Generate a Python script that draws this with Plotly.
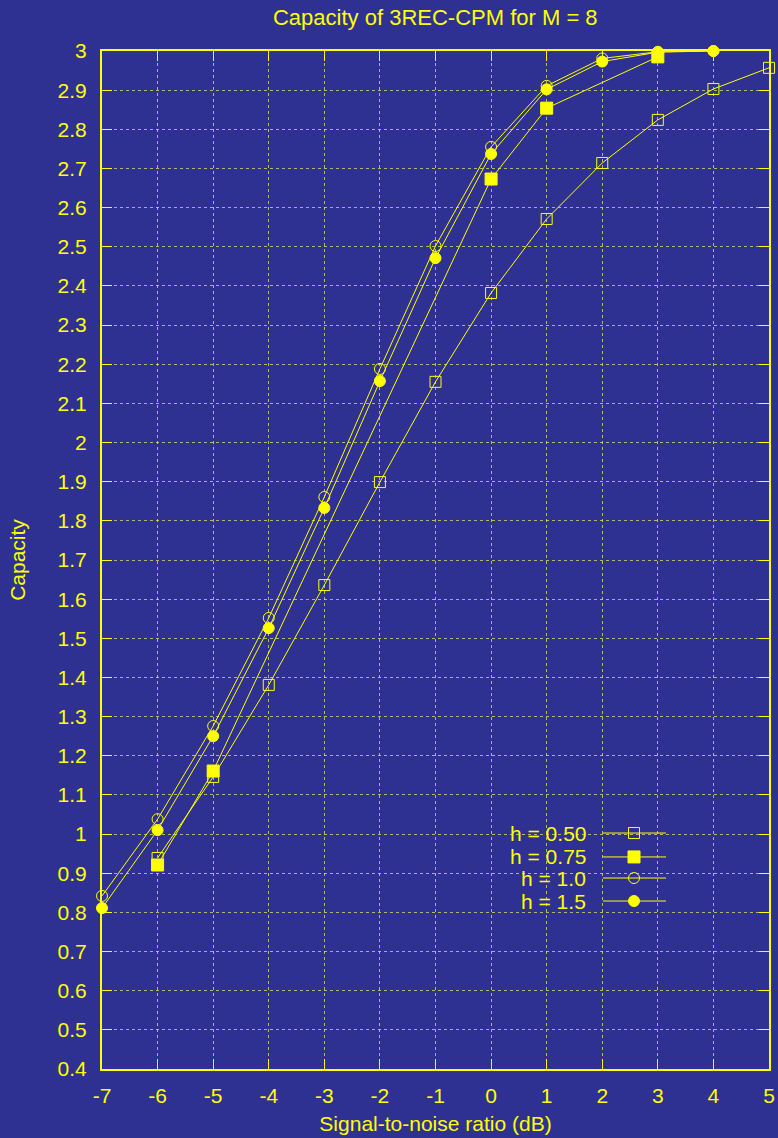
import plotly.graph_objects as go

snr_050 = [-6, -5, -4, -3, -2, -1, 0, 1, 2, 3, 4, 5]
cap_050 = [0.939, 1.146, 1.381, 1.636, 1.899, 2.155, 2.382, 2.571, 2.714, 2.824, 2.903, 2.957]

snr_075 = [-6, -5, 0, 1, 3]
cap_075 = [0.921, 1.161, 2.673, 2.854, 2.985]

snr_100 = [-7, -6, -5, -4, -3, -2, -1, 0, 1, 2, 3, 4]
cap_100 = [0.842, 1.038, 1.276, 1.552, 1.861, 2.188, 2.502, 2.755, 2.911, 2.981, 2.998, 3.0]

snr_150 = [-7, -6, -5, -4, -3, -2, -1, 0, 1, 2, 3, 4]
cap_150 = [0.811, 1.010, 1.250, 1.526, 1.833, 2.157, 2.471, 2.737, 2.902, 2.973, 2.997, 3.0]

labels = ["h = 0.50", "h = 0.75", "h = 1.0", "h = 1.5"]
x_ticks = list(range(-7, 6))
y_ticks = [round(0.4 + 0.1 * i, 1) for i in range(27)]

BG = "#2e3192"
YEL = "#ffff00"
FONT = "Liberation Sans, Arial, sans-serif"
FS = 21

series = [
    (snr_050, cap_050, "square-open", 11),
    (snr_075, cap_075, "square", 12),
    (snr_100, cap_100, "circle-open", 11),
    (snr_150, cap_150, "circle", 11),
]

fig = go.Figure()
for (xs, ys, sym, sz), name in zip(series, labels):
    fig.add_trace(go.Scatter(
        x=xs, y=ys, mode="lines+markers", name=name, showlegend=False,
        line=dict(color=YEL, width=1),
        marker=dict(symbol=sym, size=sz, color=YEL, line=dict(color=YEL, width=1)),
        cliponaxis=False,
    ))

# manual legend (gnuplot style: text right-aligned, sample to the right)
leg_rows = [0.2318, 0.2083, 0.1876, 0.1650]
lx0, lxm, lx1, ltext = 0.7511, 0.7976, 0.8456, 0.7286
for (xs, ys, sym, sz), name, ry in zip(series, labels, leg_rows):
    fig.add_trace(go.Scatter(
        x=[lx0, lx1], y=[ry, ry], mode="lines", xaxis="x2", yaxis="y2",
        line=dict(color=YEL, width=1), showlegend=False, hoverinfo="skip",
    ))
    fig.add_trace(go.Scatter(
        x=[lxm], y=[ry], mode="markers", xaxis="x2", yaxis="y2",
        marker=dict(symbol=sym, size=sz, color=YEL, line=dict(color=YEL, width=1)),
        showlegend=False, hoverinfo="skip",
    ))
    fig.add_annotation(x=ltext, y=ry, xref="paper", yref="paper", text=name,
                       showarrow=False, xanchor="right", yanchor="middle",
                       font=dict(family=FONT, size=FS, color=YEL))

axis_common = dict(
    showline=True, linecolor=YEL, linewidth=2, mirror="allticks",
    ticks="inside", ticklen=10, tickwidth=1, tickcolor=YEL,
    showgrid=True, gridcolor="rgba(230,230,80,0.75)", griddash="dot", gridwidth=1,
    zeroline=False, automargin=False,
    tickfont=dict(family=FONT, size=FS, color=YEL),
)

fig.update_layout(
    width=778, height=1138,
    paper_bgcolor=BG, plot_bgcolor=BG,
    margin=dict(l=102, r=9, t=51, b=69),
    title=dict(text="Capacity of 3REC-CPM for M = 8", x=0.5595, xanchor="center",
               y=0.985, yanchor="middle",
               font=dict(family=FONT, size=FS + 1, color=YEL)),
    xaxis=dict(range=[-7, 5], tickvals=x_ticks, ticktext=[str(v) for v in x_ticks],
               title=dict(text="Signal-to-noise ratio (dB)", standoff=10,
                          font=dict(family=FONT, size=FS, color=YEL)),
               ticklabelstandoff=7, **axis_common),
    yaxis=dict(range=[0.4, 3], tickvals=y_ticks, ticktext=[f"{v:g}" for v in y_ticks],
               title=dict(text="Capacity", standoff=26,
                          font=dict(family=FONT, size=FS, color=YEL)),
               ticklabelstandoff=9, **axis_common),
    xaxis2=dict(range=[0, 1], overlaying="x", visible=False, fixedrange=True),
    yaxis2=dict(range=[0, 1], overlaying="y", visible=False, fixedrange=True),
    showlegend=False,
)

fig.write_html("out.html", config={"displayModeBar": False},
               post_script="document.body.style.margin='0';document.body.style.padding='0';")
